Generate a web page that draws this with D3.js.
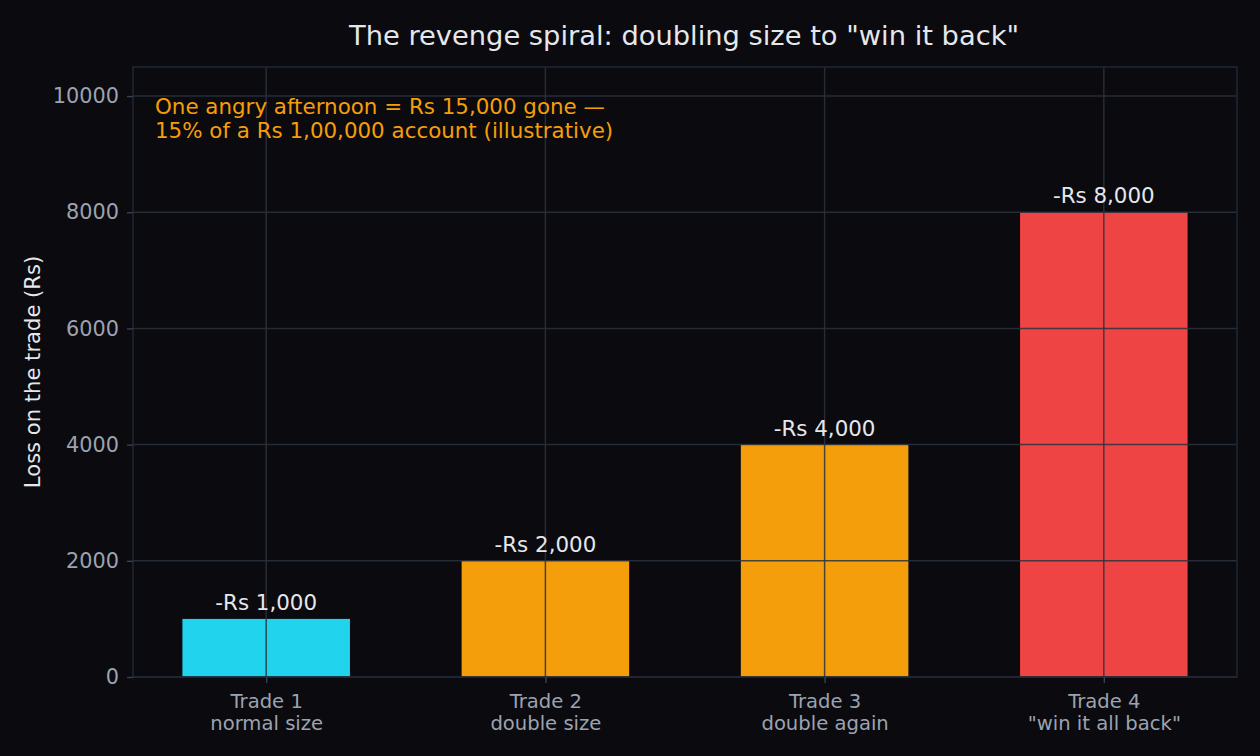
<!DOCTYPE html>
<html>
<head>
<meta charset="utf-8">
<script src="https://cdn.jsdelivr.net/npm/d3@7/dist/d3.min.js"></script>
<style>
html,body{margin:0;padding:0;background:#0a0a0f;}
svg{display:block;}
text{font-family:"DejaVu Sans",sans-serif;}
</style>
</head>
<body>
<svg id="chart" width="1260" height="756"></svg>
<script>
const categories = ["Trade 1\nnormal size", "Trade 2\ndouble size", "Trade 3\ndouble again", "Trade 4\n\"win it all back\""];
const losses = [1000, 2000, 4000, 8000];
const valueLabels = ["-Rs 1,000", "-Rs 2,000", "-Rs 4,000", "-Rs 8,000"];
const barColors = ["#22d3ee", "#f59e0b", "#f59e0b", "#ef4444"];
const yTicks = [0, 2000, 4000, 6000, 8000, 10000];
const titleText = "The revenge spiral: doubling size to \"win it back\"";
const yLabel = "Loss on the trade (Rs)";
const noteLines = ["One angry afternoon = Rs 15,000 gone \u2014", "15% of a Rs 1,00,000 account (illustrative)"];

const W = 1260, H = 756;
const m = {left:133, right:1237, top:67, bottom:677};
const svg = d3.select("#chart");
svg.append("rect").attr("width",W).attr("height",H).attr("fill","#0a0a0f");

const x = d3.scaleLinear().domain([-0.477, categories.length - 1 + 0.477]).range([m.left, m.right]);
const y = d3.scaleLinear().domain([0, 10500]).range([m.bottom, m.top]);
const barW = 0.6;

const gridColor = "#1f2937";
const tickColor = "#9ca3af";

// bars
svg.append("g").selectAll("rect").data(losses).join("rect")
  .attr("x", (d,i) => x(i - barW/2))
  .attr("width", (d,i) => x(i + barW/2) - x(i - barW/2))
  .attr("y", d => y(d))
  .attr("height", d => y(0) - y(d))
  .attr("fill", (d,i) => barColors[i]);

// grid (drawn over bars)
const grid = svg.append("g");
grid.selectAll("line.h").data(yTicks).join("line").attr("class","h")
  .attr("x1", m.left).attr("x2", m.right)
  .attr("y1", d => y(d)).attr("y2", d => y(d))
  .attr("stroke", "#2a323d").attr("stroke-width", 1.5).attr("stroke-opacity", 0.85);
grid.selectAll("line.v").data(d3.range(categories.length)).join("line").attr("class","v")
  .attr("x1", d => x(d)).attr("x2", d => x(d))
  .attr("y1", m.top).attr("y2", m.bottom)
  .attr("stroke", "#2a323d").attr("stroke-width", 1.5).attr("stroke-opacity", 0.85);

// spines
svg.append("rect").attr("x", m.left).attr("y", m.top)
  .attr("width", m.right - m.left).attr("height", m.bottom - m.top)
  .attr("fill","none").attr("stroke", gridColor).attr("stroke-width", 1.5);

// y axis
const yAxis = d3.axisLeft(y).tickValues(yTicks).tickFormat(d3.format("d")).tickSize(6).tickPadding(8);
const gy = svg.append("g").attr("transform", `translate(${m.left},0)`).call(yAxis);
gy.select(".domain").remove();
gy.selectAll(".tick line").attr("stroke", "#374151").attr("stroke-width", 1.4);
gy.selectAll(".tick text").attr("fill", tickColor).attr("font-size", "20.8px")
  .attr("font-family", "DejaVu Sans");

// x axis
const xAxis = d3.axisBottom(x).tickValues(d3.range(categories.length)).tickFormat(i => categories[i]).tickSize(6).tickPadding(6);
const gx = svg.append("g").attr("transform", `translate(0,${m.bottom})`).call(xAxis);
gx.select(".domain").remove();
gx.selectAll(".tick line").attr("stroke", "#374151").attr("stroke-width", 1.4);
gx.selectAll(".tick text").each(function(i){
  const t = d3.select(this);
  const lines = categories[i].split("\n");
  t.text(null).attr("fill", tickColor).attr("font-size", "19.6px").attr("font-family","DejaVu Sans").attr("dy", null).attr("y", null);
  lines.forEach((s, k) => {
    t.append("tspan").attr("x", 0).attr("y", 31 + k*21.8).text(s);
  });
});

// value labels
svg.append("g").selectAll("text").data(losses).join("text")
  .attr("x", (d,i) => x(i))
  .attr("y", d => y(d) - 9)
  .attr("text-anchor", "middle")
  .attr("fill", "#e5e7eb")
  .attr("font-size", "21.4px")
  .text((d,i) => valueLabels[i]);

// annotation
const note = svg.append("text").attr("fill", "#f59e0b").attr("font-size", "21.4px");
noteLines.forEach((s,k) => {
  note.append("tspan").attr("x", 155).attr("y", 114 + k*24).text(s);
});

// title
svg.append("text").attr("x", (m.left + m.right)/2 - 1).attr("y", 45)
  .attr("text-anchor","middle").attr("fill","#e5e7eb").attr("font-size","27.3px")
  .text(titleText);

// y label
svg.append("text").attr("transform", `translate(40,${(m.top+m.bottom)/2}) rotate(-90)`)
  .attr("text-anchor","middle").attr("fill","#e5e7eb").attr("font-size","21.1px")
  .text(yLabel);
</script>
</body>
</html>
